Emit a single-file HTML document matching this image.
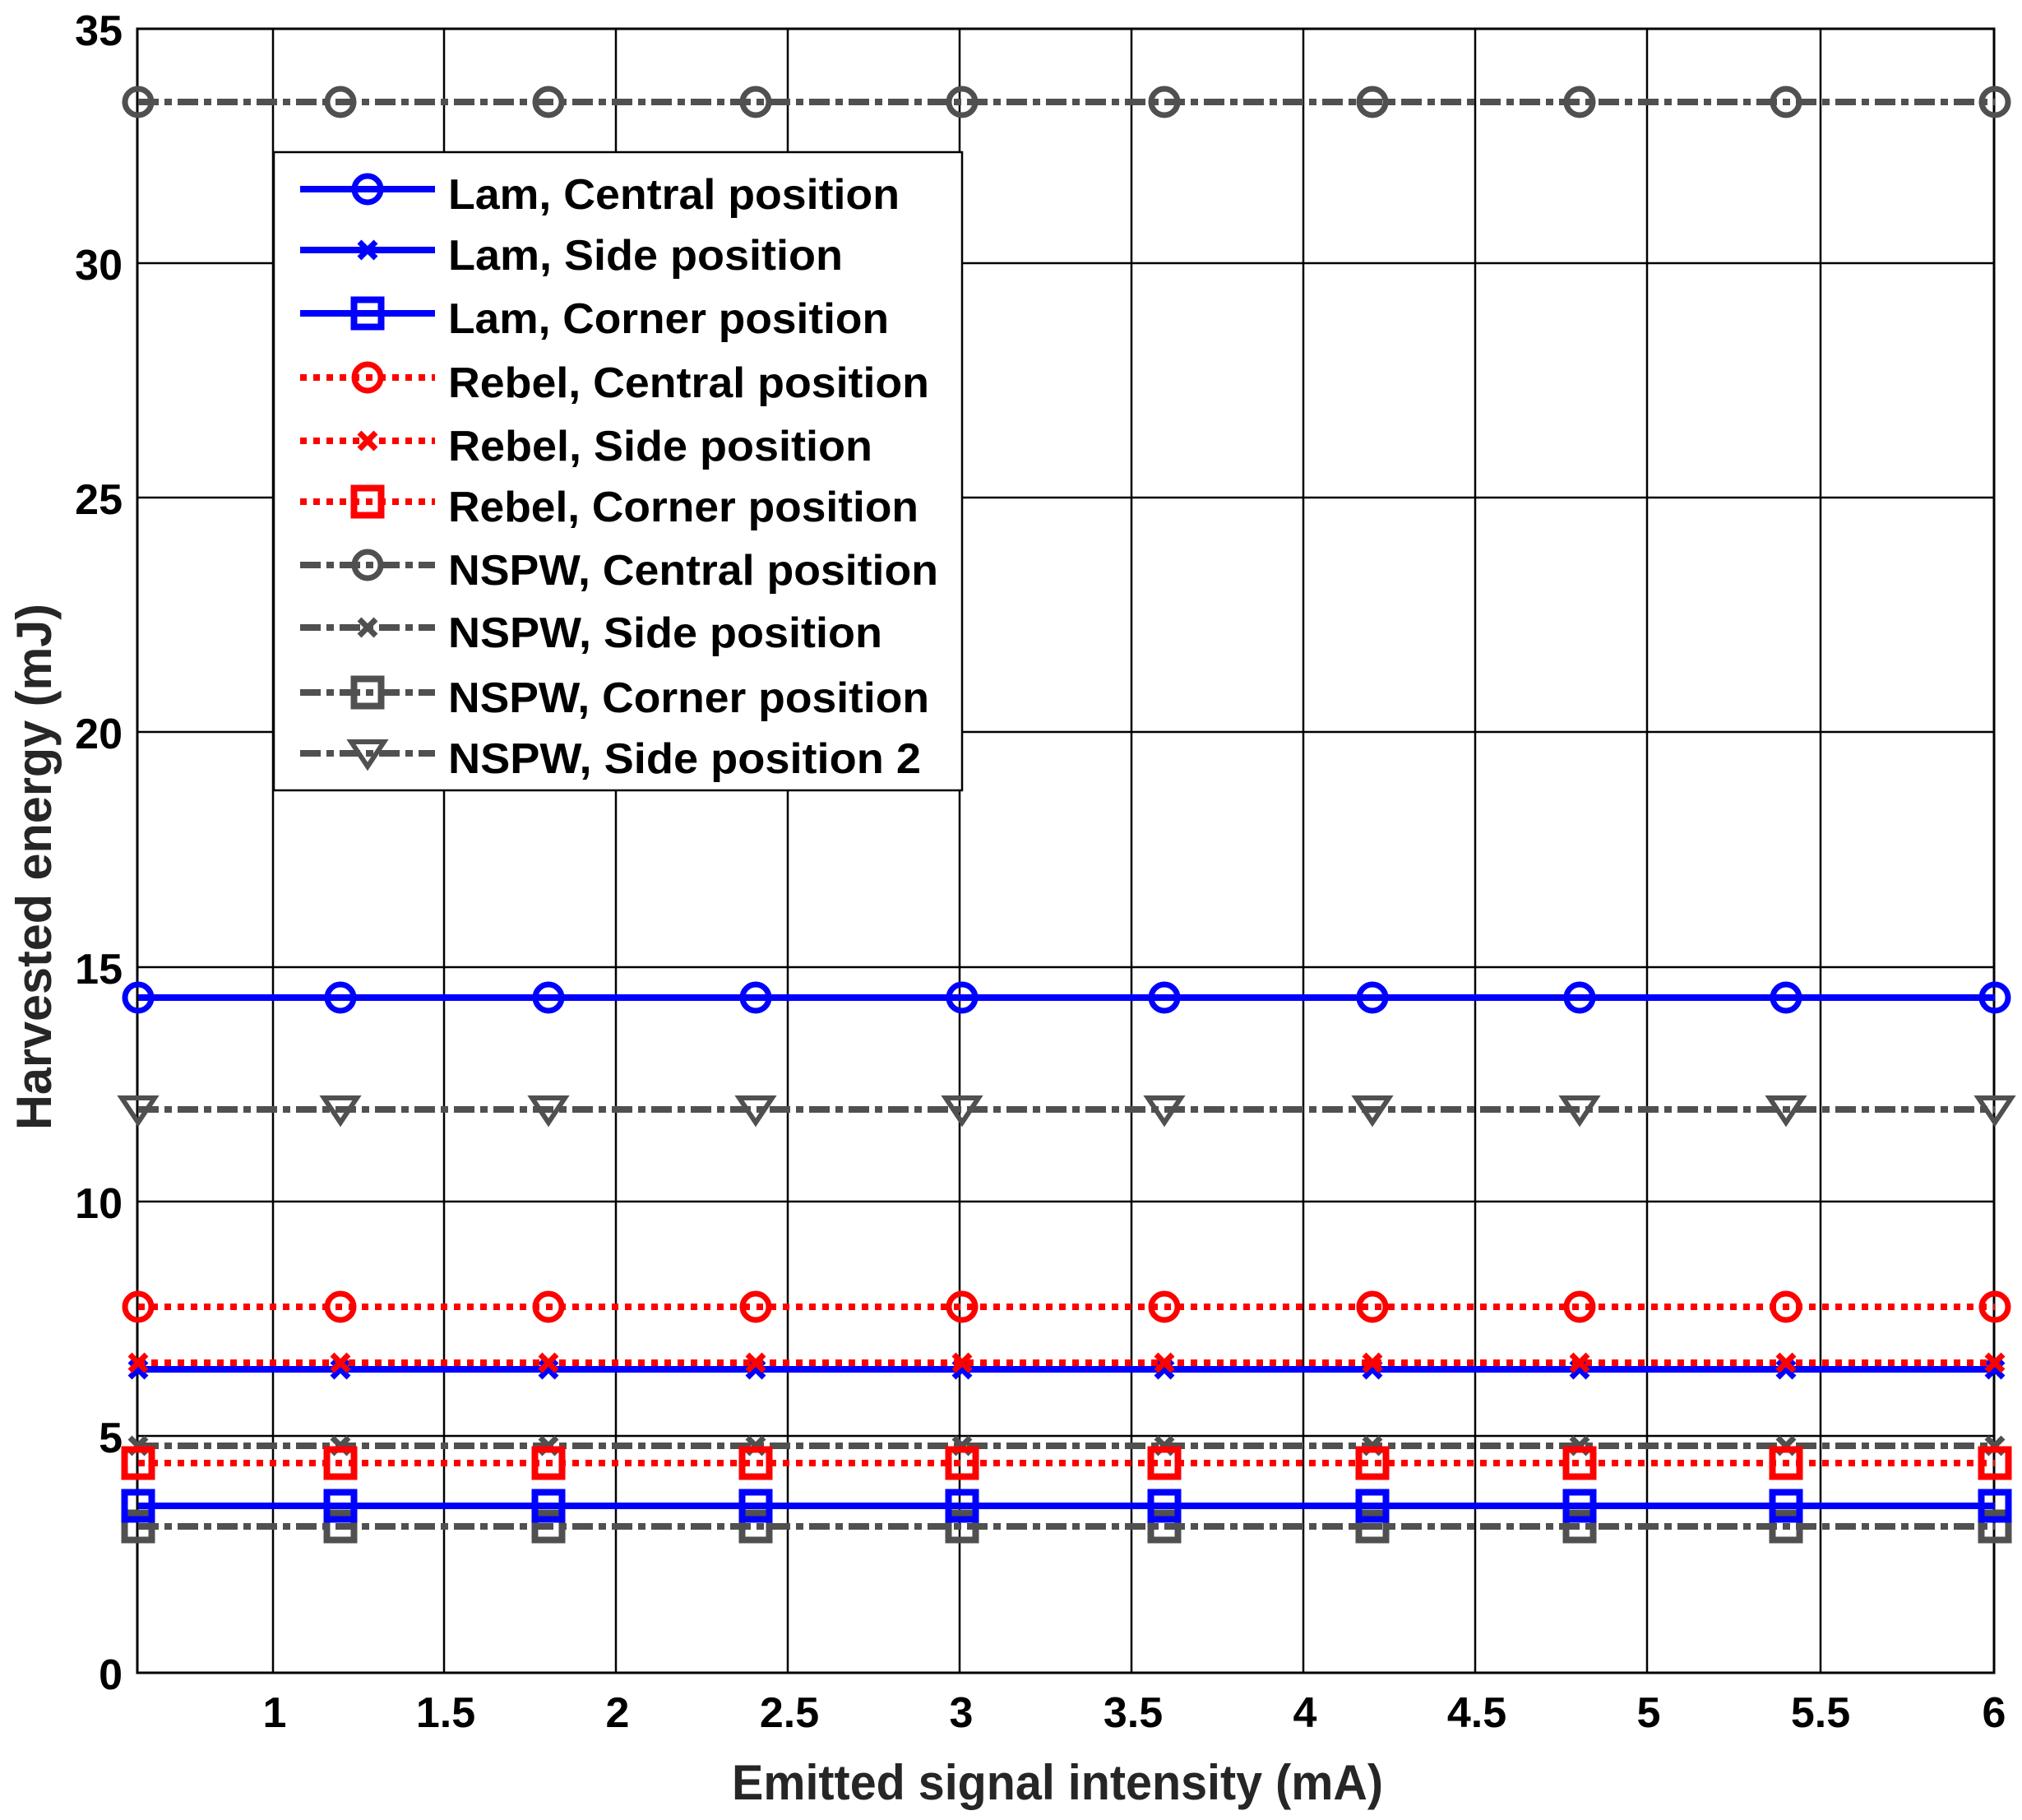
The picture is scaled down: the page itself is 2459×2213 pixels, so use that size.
<!DOCTYPE html>
<html><head><meta charset="utf-8"><style>html,body{margin:0;padding:0;background:#fff}svg{display:block}</style></head>
<body>
<svg xmlns="http://www.w3.org/2000/svg" width="2459" height="2213" viewBox="0 0 2459 2213" font-family="Liberation Sans, Arial, sans-serif">
<defs>
<marker id="cb" markerUnits="userSpaceOnUse" markerWidth="60" markerHeight="60" refX="30" refY="30" overflow="visible"><circle cx="30" cy="30" r="16" fill="none" stroke="#0000ff" stroke-width="7"/></marker>
<marker id="cr" markerUnits="userSpaceOnUse" markerWidth="60" markerHeight="60" refX="30" refY="30" overflow="visible"><circle cx="30" cy="30" r="16" fill="none" stroke="#ff0000" stroke-width="7"/></marker>
<marker id="cg" markerUnits="userSpaceOnUse" markerWidth="60" markerHeight="60" refX="30" refY="30" overflow="visible"><circle cx="30" cy="30" r="16" fill="none" stroke="#505050" stroke-width="7"/></marker>
<marker id="xb" markerUnits="userSpaceOnUse" markerWidth="60" markerHeight="60" refX="30" refY="30" overflow="visible"><path d="M20 20L40 40M40 20L20 40" stroke="#0000ff" stroke-width="7"/></marker>
<marker id="xr" markerUnits="userSpaceOnUse" markerWidth="60" markerHeight="60" refX="30" refY="30" overflow="visible"><path d="M20 20L40 40M40 20L20 40" stroke="#ff0000" stroke-width="7"/></marker>
<marker id="xg" markerUnits="userSpaceOnUse" markerWidth="60" markerHeight="60" refX="30" refY="30" overflow="visible"><path d="M20 20L40 40M40 20L20 40" stroke="#505050" stroke-width="7"/></marker>
<marker id="sb" markerUnits="userSpaceOnUse" markerWidth="60" markerHeight="60" refX="30" refY="30" overflow="visible"><rect x="13.5" y="13.5" width="33" height="33" fill="none" stroke="#0000ff" stroke-width="8"/></marker>
<marker id="sr" markerUnits="userSpaceOnUse" markerWidth="60" markerHeight="60" refX="30" refY="30" overflow="visible"><rect x="13.5" y="13.5" width="33" height="33" fill="none" stroke="#ff0000" stroke-width="8"/></marker>
<marker id="sg" markerUnits="userSpaceOnUse" markerWidth="60" markerHeight="60" refX="30" refY="30" overflow="visible"><rect x="13.5" y="13.5" width="33" height="33" fill="none" stroke="#505050" stroke-width="8"/></marker>
<marker id="tg" markerUnits="userSpaceOnUse" markerWidth="60" markerHeight="60" refX="30" refY="30" overflow="visible"><path d="M10 16L50 16L30 46Z" fill="none" stroke="#505050" stroke-width="6" stroke-linejoin="miter"/></marker>
</defs>
<g stroke="#000" stroke-width="2.5">
<line x1="332" y1="35" x2="332" y2="2034"/><line x1="540" y1="35" x2="540" y2="2034"/><line x1="749" y1="35" x2="749" y2="2034"/><line x1="958" y1="35" x2="958" y2="2034"/><line x1="1167" y1="35" x2="1167" y2="2034"/><line x1="1376" y1="35" x2="1376" y2="2034"/><line x1="1585" y1="35" x2="1585" y2="2034"/><line x1="1794" y1="35" x2="1794" y2="2034"/><line x1="2003" y1="35" x2="2003" y2="2034"/><line x1="2214" y1="35" x2="2214" y2="2034"/>
<line x1="167" y1="1746" x2="2425" y2="1746"/><line x1="167" y1="1461" x2="2425" y2="1461"/><line x1="167" y1="1176" x2="2425" y2="1176"/><line x1="167" y1="890" x2="2425" y2="890"/><line x1="167" y1="605" x2="2425" y2="605"/><line x1="167" y1="320" x2="2425" y2="320"/>
<rect x="167" y="35" width="2258" height="1999" fill="none" stroke-width="3"/>
</g>
<g fill="none" stroke-width="8">
<polyline points="168,124 414,124 667,124 919,124 1170,124 1416,124 1669,124 1921,124 2172,124 2426,124" stroke="#505050" stroke-dasharray="25 7 9 7" marker-start="url(#cg)" marker-mid="url(#cg)" marker-end="url(#cg)"/>
<polyline points="168,1349 414,1349 667,1349 919,1349 1170,1349 1416,1349 1669,1349 1921,1349 2172,1349 2426,1349" stroke="#505050" stroke-dasharray="25 7 9 7" marker-start="url(#tg)" marker-mid="url(#tg)" marker-end="url(#tg)"/>
<polyline points="168,1758 414,1758 667,1758 919,1758 1170,1758 1416,1758 1669,1758 1921,1758 2172,1758 2426,1758" stroke="#505050" stroke-dasharray="25 7 9 7" marker-start="url(#xg)" marker-mid="url(#xg)" marker-end="url(#xg)"/>
<polyline points="168,1856 414,1856 667,1856 919,1856 1170,1856 1416,1856 1669,1856 1921,1856 2172,1856 2426,1856" stroke="#505050" stroke-dasharray="25 7 9 7" marker-start="url(#sg)" marker-mid="url(#sg)" marker-end="url(#sg)"/>
<polyline points="168,1665 414,1665 667,1665 919,1665 1170,1665 1416,1665 1669,1665 1921,1665 2172,1665 2426,1665" stroke="#0000ff" marker-start="url(#xb)" marker-mid="url(#xb)" marker-end="url(#xb)"/>
<polyline points="168,1831 414,1831 667,1831 919,1831 1170,1831 1416,1831 1669,1831 1921,1831 2172,1831 2426,1831" stroke="#0000ff" marker-start="url(#sb)" marker-mid="url(#sb)" marker-end="url(#sb)"/>
<polyline points="168,1213 414,1213 667,1213 919,1213 1170,1213 1416,1213 1669,1213 1921,1213 2172,1213 2426,1213" stroke="#0000ff" marker-start="url(#cb)" marker-mid="url(#cb)" marker-end="url(#cb)"/>
<polyline points="168,1589 414,1589 667,1589 919,1589 1170,1589 1416,1589 1669,1589 1921,1589 2172,1589 2426,1589" stroke="#ff0000" stroke-dasharray="8 8" marker-start="url(#cr)" marker-mid="url(#cr)" marker-end="url(#cr)"/>
<polyline points="168,1657 414,1657 667,1657 919,1657 1170,1657 1416,1657 1669,1657 1921,1657 2172,1657 2426,1657" stroke="#ff0000" stroke-dasharray="8 8" marker-start="url(#xr)" marker-mid="url(#xr)" marker-end="url(#xr)"/>
<polyline points="168,1779 414,1779 667,1779 919,1779 1170,1779 1416,1779 1669,1779 1921,1779 2172,1779 2426,1779" stroke="#ff0000" stroke-dasharray="8 8" marker-start="url(#sr)" marker-mid="url(#sr)" marker-end="url(#sr)"/>
</g>
<!-- legend -->
<rect x="333" y="185" width="837" height="776" fill="#fff" stroke="#000" stroke-width="2.5"/>
<g fill="none" stroke-width="8">
<polyline points="365,230 447,230 529,230" stroke="#0000ff" marker-mid="url(#cb)"/>
<polyline points="365,304 447,304 529,304" stroke="#0000ff" marker-mid="url(#xb)"/>
<polyline points="365,381 447,381 529,381" stroke="#0000ff" marker-mid="url(#sb)"/>
<polyline points="365,459 447,459 529,459" stroke="#ff0000" stroke-dasharray="8 8" marker-mid="url(#cr)"/>
<polyline points="365,536 447,536 529,536" stroke="#ff0000" stroke-dasharray="8 8" marker-mid="url(#xr)"/>
<polyline points="365,610 447,610 529,610" stroke="#ff0000" stroke-dasharray="8 8" marker-mid="url(#sr)"/>
<polyline points="365,687 447,687 529,687" stroke="#505050" stroke-dasharray="25 7 9 7" marker-mid="url(#cg)"/>
<polyline points="365,763 447,763 529,763" stroke="#505050" stroke-dasharray="25 7 9 7" marker-mid="url(#xg)"/>
<polyline points="365,842 447,842 529,842" stroke="#505050" stroke-dasharray="25 7 9 7" marker-mid="url(#sg)"/>
<polyline points="365,916 447,916 529,916" stroke="#505050" stroke-dasharray="25 7 9 7" marker-mid="url(#tg)"/>
</g>
<g font-size="52" font-weight="bold" fill="#000" lengthAdjust="spacingAndGlyphs">
<text x="545" y="254" textLength="549" lengthAdjust="spacingAndGlyphs">Lam, Central position</text>
<text x="545" y="328" textLength="480" lengthAdjust="spacingAndGlyphs">Lam, Side position</text>
<text x="545" y="405" textLength="536" lengthAdjust="spacingAndGlyphs">Lam, Corner position</text>
<text x="545" y="483" textLength="585" lengthAdjust="spacingAndGlyphs">Rebel, Central position</text>
<text x="545" y="560" textLength="516" lengthAdjust="spacingAndGlyphs">Rebel, Side position</text>
<text x="545" y="634" textLength="572" lengthAdjust="spacingAndGlyphs">Rebel, Corner position</text>
<text x="545" y="711" textLength="596" lengthAdjust="spacingAndGlyphs">NSPW, Central position</text>
<text x="545" y="787" textLength="528" lengthAdjust="spacingAndGlyphs">NSPW, Side position</text>
<text x="545" y="866" textLength="585" lengthAdjust="spacingAndGlyphs">NSPW, Corner position</text>
<text x="545" y="940" textLength="575" lengthAdjust="spacingAndGlyphs">NSPW, Side position 2</text>
</g>
<!-- tick labels -->
<g font-size="52" font-weight="bold" fill="#000" text-anchor="middle">
<text x="334" y="2100">1</text><text x="542" y="2100">1.5</text><text x="751" y="2100">2</text><text x="960" y="2100">2.5</text><text x="1169" y="2100">3</text><text x="1378" y="2100">3.5</text><text x="1587" y="2100">4</text><text x="1796" y="2100">4.5</text><text x="2005" y="2100">5</text><text x="2214" y="2100">5.5</text><text x="2425" y="2100">6</text>
</g>
<g font-size="52" font-weight="bold" fill="#000" text-anchor="end">
<text x="149" y="2054">0</text><text x="149" y="1766">5</text><text x="149" y="1481">10</text><text x="149" y="1196">15</text><text x="149" y="910">20</text><text x="149" y="625">25</text><text x="149" y="340">30</text><text x="149" y="55">35</text>
</g>
<text x="1286" y="2188" font-size="60" font-weight="bold" fill="#262626" text-anchor="middle" textLength="792" lengthAdjust="spacingAndGlyphs">Emitted signal intensity (mA)</text>
<text transform="translate(62,1054) rotate(-90)" font-size="60" font-weight="bold" fill="#262626" text-anchor="middle" textLength="640" lengthAdjust="spacingAndGlyphs">Harvested energy (mJ)</text>
</svg>
</body></html>
